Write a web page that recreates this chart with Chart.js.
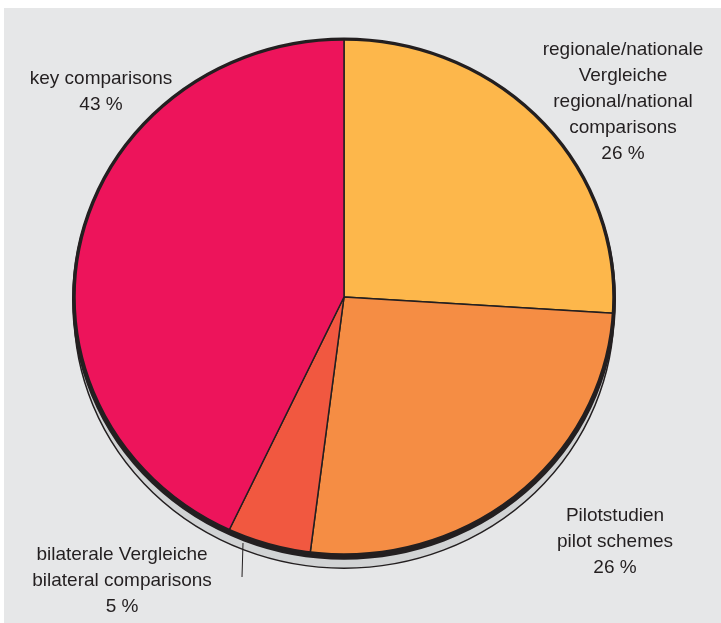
<!DOCTYPE html>
<html lang="de">
<head>
<meta charset="UTF-8">
<title>Vergleiche</title>
<script src="https://cdn.jsdelivr.net/npm/chart.js"></script>
<style>
  html, body { margin: 0; padding: 0; background: #ffffff; }
  #wrap { width: 721px; height: 623px; }
</style>
</head>
<body>
<div id="wrap"><canvas id="pieChart" width="721" height="623"></canvas></div>
<script>
  // data (percent)
  var categories = [
    ['regionale/nationale', 'Vergleiche', 'regional/national', 'comparisons'],
    ['Pilotstudien', 'pilot schemes'],
    ['bilaterale Vergleiche', 'bilateral comparisons'],
    ['key comparisons']
  ]
  var shares = [26, 26, 5, 43]
  var colours = ['#FDB74B', '#F58D44', '#F15840', '#ED145B']

  // where each label block sits (center x, first line y) + optional leader line
  var labelSpots = [
    { x: 623, y: 50 },
    { x: 615, y: 516 },
    { x: 122, y: 555, line: [243, 543, 242, 577] },
    { x: 101, y: 79 }
  ]

  const squash = 0.955      // pie is a bit flatter than round
  const ink = '#231F20'

  const backdrop = {
    id: 'backdrop',
    beforeDraw(chart) {
      const ctx = chart.ctx
      ctx.save()
      ctx.fillStyle = '#E6E7E8'
      ctx.fillRect(4, 8, chart.width - 4, chart.height - 8)
      ctx.restore()
    },
    beforeDatasetsDraw(chart) {
      const arc = chart.getDatasetMeta(0).data[0]
      const ctx = chart.ctx
      const cx = arc.x, cy = arc.y, r = arc.outerRadius
      ctx.save()
      ctx.translate(cx, cy)
      ctx.scale(1, squash)
      ctx.translate(-cx, -cy)
      // side / shadow of the tilted pie
      ctx.beginPath()
      ctx.arc(cx, cy + 14, r, 0, Math.PI * 2)
      ctx.fillStyle = '#D1D3D4'
      ctx.fill()
      ctx.lineWidth = 1.5
      ctx.strokeStyle = ink
      ctx.stroke()
      ctx.beginPath()
      ctx.arc(cx, cy + 3, r, 0, Math.PI * 2)
      ctx.lineWidth = 4
      ctx.stroke()
    },
    afterDatasetsDraw(chart) {
      const arc = chart.getDatasetMeta(0).data[0]
      const ctx = chart.ctx
      ctx.beginPath()
      ctx.arc(arc.x, arc.y, arc.outerRadius, 0, Math.PI * 2)
      ctx.lineWidth = 3.5
      ctx.strokeStyle = ink
      ctx.stroke()
      ctx.restore()
    },
    afterDraw(chart) {
      const ctx = chart.ctx
      ctx.save()
      ctx.font = '19px "Liberation Sans", Arial, sans-serif'
      ctx.fillStyle = ink
      ctx.textAlign = 'center'
      ctx.textBaseline = 'middle'
      for (let i = 0; i < categories.length; i++) {
        const spot = labelSpots[i]
        const lines = categories[i].concat([shares[i] + ' %'])
        for (let j = 0; j < lines.length; j++) {
          ctx.fillText(lines[j], spot.x, spot.y + j * 26)
        }
        if (spot.line) {
          ctx.beginPath()
          ctx.moveTo(spot.line[0], spot.line[1])
          ctx.lineTo(spot.line[2], spot.line[3])
          ctx.lineWidth = 1
          ctx.strokeStyle = ink
          ctx.stroke()
        }
      }
      ctx.restore()
    }
  }

  const config = {
    type: 'pie',
    data: {
      labels: categories.map(c => c.join(' ')),
      datasets: [{
        data: shares,
        backgroundColor: colours,
        borderColor: ink,
        borderWidth: 1.5
      }]
    },
    options: {
      responsive: false,
      animation: false,
      radius: 270,
      layout: { padding: { left: 74, right: 107, top: 27, bottom: 56 } },
      plugins: {
        legend: { display: false },
        tooltip: { enabled: false }
      }
    },
    plugins: [backdrop]
  }

  const pie = new Chart(document.getElementById('pieChart'), config)
</script>
</body>
</html>
